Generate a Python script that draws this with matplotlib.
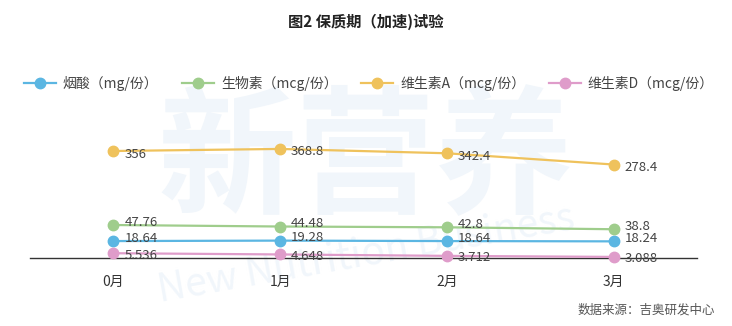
import numpy as np
import matplotlib.pyplot as plt

plt.rcParams['font.family'] = ['Noto Sans CJK SC', 'DejaVu Sans']

months = ['0月', '1月', '2月', '3月']
niacin = [18.64, 19.28, 18.64, 18.24]
biotin = [47.76, 44.48, 42.8, 38.8]
vit_a = [356, 368.8, 342.4, 278.4]
vit_d = [5.536, 4.648, 3.712, 3.088]
labels_niacin = ['18.64', '19.28', '18.64', '18.24']
labels_biotin = ['47.76', '44.48', '42.8', '38.8']
labels_a = ['356', '368.8', '342.4', '278.4']
labels_d = ['5.536', '4.648', '3.712', '3.088']

series = [
    ('烟酸（mg/份）', niacin, labels_niacin, '#5bb6e2', (11, 3)),
    ('生物素（mcg/份）', biotin, labels_biotin, '#9fcd8c', (11, 3)),
    ('维生素A（mcg/份）', vit_a, labels_a, '#efc25c', (11, -3)),
    ('维生素D（mcg/份）', vit_d, labels_d, '#df9cca', (11, -2)),
]

fig = plt.figure(figsize=(7.32, 3.26), dpi=100)

# faint watermark behind everything
fig.text(0.50, 0.50, '新营养', fontsize=100, fontweight='bold', color='#f1f6fb',
         ha='center', va='center', zorder=-5)
fig.text(0.50, 0.22, 'New Nutrition Business', fontsize=28, color='#f1f6fb',
         ha='center', va='center', rotation=10, zorder=-5)

ax = fig.add_axes([30 / 732, 68 / 326, 667 / 732, 148 / 326])
ax.patch.set_alpha(0)

x = np.arange(len(months))
for name, vals, labs, color, off in series:
    ax.plot(x, vals, color=color, lw=1.6, marker='o', markersize=7.5,
            label=name, clip_on=False, zorder=3)
    for xi, v, t in zip(x, vals, labs):
        ax.annotate(t, (xi, v), xytext=off, textcoords='offset pixels',
                    ha='left', va='center', fontsize=9.5, color='#444444')

ax.set_yscale('function', functions=(np.sqrt, np.square))
ax.set_ylim(2.5, 650)
ax.set_xlim(-0.5, 3.5)
ax.set_xticks(x)
ax.set_xticklabels(months, fontsize=10, color='#333333')
ax.tick_params(axis='x', length=0, pad=12)
ax.set_yticks([])
ax.yaxis.set_minor_locator(plt.NullLocator())
for s in ['top', 'left', 'right']:
    ax.spines[s].set_visible(False)
ax.spines['bottom'].set_color('#333333')
ax.spines['bottom'].set_linewidth(1)

fig.text(0.5, 0.932, '图2 保质期（加速)试验', ha='center', va='center',
         fontsize=11, fontweight='bold', color='#222222')

fig.legend(loc='center', bbox_to_anchor=(0.504, 0.745), ncol=4, frameon=False,
           fontsize=10, handlelength=2.3, columnspacing=1.7, handletextpad=0.5,
           labelcolor='#444444')

fig.text(0.977, 0.05, '数据来源：吉奥研发中心', ha='right', va='center',
         fontsize=9, color='#555555')

fig.savefig('out.png', dpi=100)
